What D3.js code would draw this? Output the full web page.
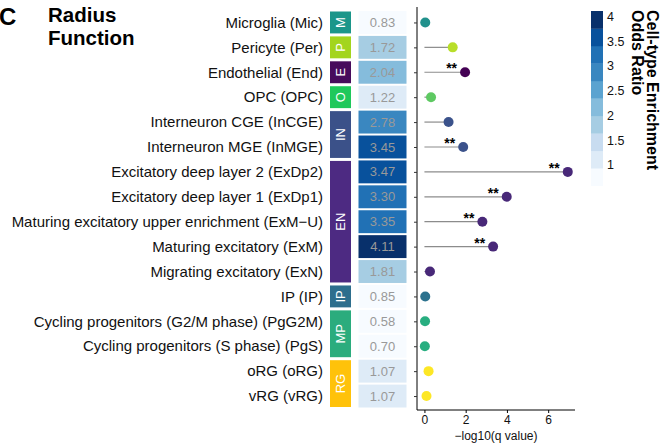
<!DOCTYPE html>
<html>
<head>
<meta charset="utf-8">
<script src="https://cdn.jsdelivr.net/npm/d3@7"></script>
<style>
  body { margin: 0; background: #fff; }
  text { font-family: "Liberation Sans", Arial, Helvetica, sans-serif; }
</style>
</head>
<body>
<div id="chart"></div>
<script>
// data
const cellTypes = [
  'Microglia (Mic)', 'Pericyte (Per)', 'Endothelial (End)', 'OPC (OPC)',
  'Interneuron CGE (InCGE)', 'Interneuron MGE (InMGE)',
  'Excitatory deep layer 2 (ExDp2)', 'Excitatory deep layer 1 (ExDp1)',
  'Maturing excitatory upper enrichment (ExM\u2212U)', 'Maturing excitatory (ExM)',
  'Migrating excitatory (ExN)', 'IP (IP)',
  'Cycling progenitors (G2/M phase) (PgG2M)', 'Cycling progenitors (S phase) (PgS)',
  'oRG (oRG)', 'vRG (vRG)'
]
const cellGroups = ['M', 'P', 'E', 'O', 'IN', 'IN', 'EN', 'EN', 'EN', 'EN', 'EN', 'IP', 'MP', 'MP', 'RG', 'RG']
const oddsRatio = [0.83, 1.72, 2.04, 1.22, 2.78, 3.45, 3.47, 3.30, 3.35, 4.11, 1.81, 0.85, 0.58, 0.70, 1.07, 1.07]
const negLog10Q = [0.04, 1.37, 1.97, 0.32, 1.17, 1.88, 6.95, 3.99, 2.81, 3.33, 0.27, 0.04, 0.03, 0.02, 0.20, 0.10]
const signif = ['', '', '**', '', '', '**', '**', '**', '**', '**', '', '', '', '', '', '']

const groupNames = ['M', 'P', 'E', 'O', 'IN', 'EN', 'IP', 'MP', 'RG']
const stripColors = ['#1b968a', '#a3d51e', '#470b5c', '#1fc85b', '#3b5189', '#4d2a82', '#2d6e8d', '#2bac7d', '#ffc20a']
const dotColors = ['#21918c', '#b8de29', '#440154', '#5ec962', '#3b528b', '#482878', '#2c728e', '#28ae80', '#fde725']

const orTicks = [1, 1.5, 2, 2.5, 3, 3.5, 4]
const xTicks = [0, 2, 4, 6]
const blues = ['#f7fbff', '#deebf7', '#c8dcf0', '#a6cde3', '#85bcdc', '#5ba3d0', '#3a87c0', '#2171b5', '#08519c', '#08306b']

const width = 660
const height = 443

const svg = d3.select('#chart').append('svg')
  .attr('width', width)
  .attr('height', height)

// title
svg.append('text').attr('x', -1).attr('y', 25).text('C')
  .style('font-size', '24px').style('font-weight', 'bold')
svg.append('text').attr('x', 48).attr('y', 22).text('Radius')
  .style('font-size', '20.5px').style('font-weight', 'bold')
svg.append('text').attr('x', 48).attr('y', 45).text('Function')
  .style('font-size', '20.5px').style('font-weight', 'bold')

// scales
const yScale = d3.scaleBand().domain(d3.range(cellTypes.length)).range([10, 408.5])
const yMid = (i) => yScale(i) + yScale.bandwidth() / 2
const xScale = d3.scaleLinear().domain([-0.36, 7.3]).range([417, 575])
const groupColor = d3.scaleOrdinal().domain(groupNames).range(stripColors)
const dotColor = d3.scaleOrdinal().domain(groupNames).range(dotColors)
const orExtent = d3.extent(oddsRatio)
const fillScale = d3.scaleQuantize().domain(orExtent).range(blues)

const rows = d3.range(cellTypes.length)

// row labels
svg.append('g').selectAll('text')
  .data(rows)
  .join('text')
  .attr('x', 323)
  .attr('y', (i) => yMid(i))
  .attr('dy', '0.35em')
  .attr('text-anchor', 'end')
  .style('font-size', '15px')
  .style('fill', '#111')
  .text((i) => cellTypes[i])

// group strips
const groupSpans = groupNames.map((g) => {
  const idx = rows.filter((i) => cellGroups[i] === g)
  return { g, first: d3.min(idx), last: d3.max(idx) }
})
const strips = svg.append('g').selectAll('g')
  .data(groupSpans)
  .join('g')
strips.append('rect')
  .attr('x', 330)
  .attr('width', 21)
  .attr('y', (d) => yScale(d.first) + 1.5)
  .attr('height', (d) => yScale(d.last) + yScale.bandwidth() - yScale(d.first) - 3)
  .style('fill', (d) => groupColor(d.g))
strips.append('text')
  .attr('transform', (d) => `translate(340.5, ${(yScale(d.first) + yScale(d.last) + yScale.bandwidth()) / 2}) rotate(-90)`)
  .attr('text-anchor', 'middle')
  .attr('dy', '0.35em')
  .style('fill', '#fff')
  .style('font-size', '13px')
  .text((d) => d.g)

// odds ratio tiles
const tiles = svg.append('g').selectAll('g')
  .data(rows)
  .join('g')
tiles.append('rect')
  .attr('x', 358.5)
  .attr('width', 48)
  .attr('y', (i) => yScale(i) + 1)
  .attr('height', yScale.bandwidth() - 2)
  .style('fill', (i) => fillScale(oddsRatio[i]))
tiles.append('text')
  .attr('x', 382.5)
  .attr('y', (i) => yMid(i))
  .attr('dy', '0.35em')
  .attr('text-anchor', 'middle')
  .style('font-size', '13px')
  .style('fill', '#999')
  .text((i) => oddsRatio[i].toFixed(2))

// lollipops
const ctr = svg.append('g')
ctr.selectAll('line')
  .data(rows)
  .join('line')
  .attr('x1', xScale(0))
  .attr('x2', (i) => xScale(negLog10Q[i]))
  .attr('y1', (i) => yMid(i))
  .attr('y2', (i) => yMid(i))
  .style('stroke', '#8c8c8c')
  .style('stroke-width', 1.2)
ctr.selectAll('circle')
  .data(rows)
  .join('circle')
  .attr('cx', (i) => xScale(negLog10Q[i]))
  .attr('cy', (i) => yMid(i))
  .attr('r', 5)
  .style('fill', (i) => dotColor(cellGroups[i]))
ctr.selectAll('text.star')
  .data(rows.filter((i) => signif[i]))
  .join('text')
  .attr('class', 'star')
  .attr('x', (i) => xScale(negLog10Q[i]) - 8)
  .attr('y', (i) => yMid(i) + 1)
  .attr('text-anchor', 'end')
  .style('font-size', '14px')
  .style('font-weight', 'bold')
  .text((i) => signif[i])

// axes
const yAxis = d3.axisLeft(d3.scalePoint().domain(rows).range([yMid(0), yMid(rows.length - 1)]))
  .tickSize(3).tickFormat('')
svg.append('g')
  .attr('transform', 'translate(417, 0)')
  .call(yAxis)
  .call((g) => g.select('.domain').attr('d', `M0,7V410`))
  .selectAll('line').style('stroke', '#333')

const xAxis = d3.axisBottom(xScale).tickValues(xTicks).tickSize(3).tickPadding(2)
const xAxisGroup = svg.append('g')
  .attr('transform', 'translate(0, 410)')
  .call(xAxis)
xAxisGroup.select('.domain').attr('d', `M417,0H575`)
xAxisGroup.selectAll('text').style('font-size', '12px').style('fill', '#111')
xAxisGroup.append('text')
  .attr('x', 496)
  .attr('y', 30)
  .attr('text-anchor', 'middle')
  .style('font-size', '12px')
  .style('fill', '#111')
  .text('\u2212log10(q value)')

// legend
const legendScale = d3.scaleLinear().domain(orExtent).range([185.7, 11])
const binW = (orExtent[1] - orExtent[0]) / blues.length
const legend = svg.append('g')
legend.selectAll('rect')
  .data(blues)
  .join('rect')
  .attr('x', 591)
  .attr('width', 12)
  .attr('y', (c, k) => legendScale(orExtent[0] + (k + 1) * binW))
  .attr('height', (c, k) => legendScale(orExtent[0] + k * binW) - legendScale(orExtent[0] + (k + 1) * binW) + 0.3)
  .style('fill', (c) => c)
legend.selectAll('text')
  .data(orTicks)
  .join('text')
  .attr('x', 607)
  .attr('y', (d) => legendScale(d))
  .attr('dy', '0.35em')
  .style('font-size', '12.5px')
  .style('fill', '#111')
  .text((d) => d)
legend.append('text')
  .attr('transform', 'translate(647, 10) rotate(90)')
  .style('font-size', '16px')
  .style('font-weight', 'bold')
  .text('Cell-type Enrichment')
legend.append('text')
  .attr('transform', 'translate(632, 10) rotate(90)')
  .style('font-size', '16px')
  .style('font-weight', 'bold')
  .text('Odds Ratio')
</script>
</body>
</html>
